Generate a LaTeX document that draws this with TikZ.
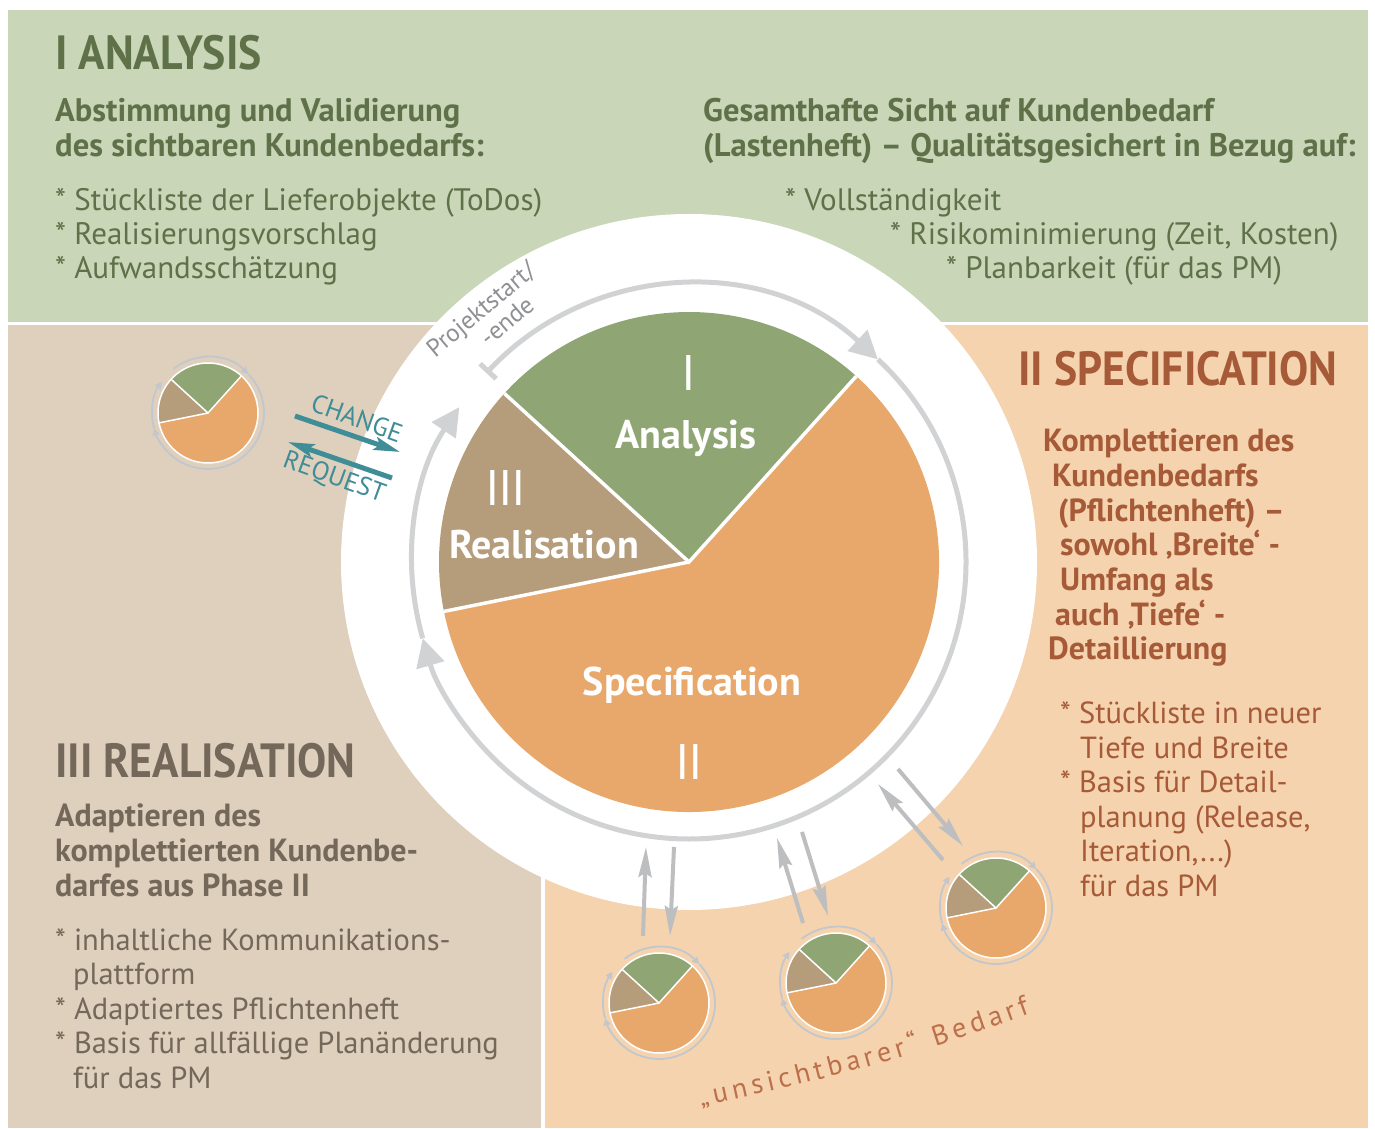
\documentclass[tikz,border=0pt]{standalone}
\usepackage{fontspec}
\setmainfont{PT Sans}
\newfontfamily\headfont[FakeStretch=0.91]{PT Sans}
\usetikzlibrary{arrows.meta,decorations.text}

\definecolor{greenbg}{HTML}{C9D6B8}
\definecolor{brownbg}{HTML}{DFCFBD}
\definecolor{peachbg}{HTML}{F4D3AE}
\definecolor{piegreen}{HTML}{8FA674}
\definecolor{piebrown}{HTML}{B59C7A}
\definecolor{pieorange}{HTML}{E8A76B}
\definecolor{ringgray}{HTML}{D1D2D4}
\definecolor{arrowgray}{HTML}{BCBEC0}
\definecolor{minigray}{HTML}{C2C7CE}
\definecolor{changeteal}{HTML}{3E8D97}
\definecolor{greentxt}{HTML}{5E7149}
\definecolor{browntxt}{HTML}{736859}
\definecolor{rusttxt}{HTML}{A65A37}
\definecolor{startgray}{HTML}{8E9093}
\definecolor{hiddentxt}{HTML}{BC6F4A}

\tikzset{
  headtxt/.style={anchor=base west, inner sep=0pt, font=\headfont\bfseries\fontsize{48}{48}\selectfont},
  subtxt/.style={anchor=base west, inner sep=0pt, align=left, font=\bfseries\fontsize{32}{34.7}\selectfont},
  itemtxt/.style={anchor=base west, inner sep=0pt, align=left, font=\fontsize{30.5}{34.5}\selectfont},
  topsub/.style={subtxt, font=\bfseries\fontsize{32.6}{35}\selectfont},
  topitem/.style={itemtxt, font=\fontsize{31}{34}\selectfont},
  pielbl/.style={anchor=base, inner sep=0pt, text=white, font=\bfseries\fontsize{40}{40}\selectfont},
  pienum/.style={anchor=base, inner sep=0pt, text=white, font=\fontsize{50}{50}\selectfont},
  ring/.style={draw=ringgray, line width=5pt},
  miniring/.style={draw=minigray, line width=1.8pt},
  grayarrow/.style={draw=arrowgray, line width=4pt, -{Stealth[length=30pt,width=13pt,inset=4pt]}},
  tealarrow/.style={draw=changeteal, line width=5pt, -{Stealth[length=26pt,width=13pt,inset=5pt]}},
  minipie/.pic={
    \fill[piegreen] (0,0) -- (48:50) arc[start angle=48,end angle=137.6,radius=50] -- cycle;
    \fill[piebrown] (0,0) -- (137.6:50) arc[start angle=137.6,end angle=191.4,radius=50] -- cycle;
    \fill[pieorange] (0,0) -- (191.4:50) arc[start angle=191.4,end angle=408,radius=50] -- cycle;
    \draw[white, line width=1.5pt] (48:50) -- (0,0) -- (137.6:50) (0,0) -- (191.4:50);
    \draw[white, line width=1.5pt] (0,0) circle[radius=50];
    \draw[miniring, -{Triangle[length=7pt,width=7pt]}] (128:56) arc[start angle=128,end angle=44,radius=56];
    \draw[miniring, -{Triangle[length=7pt,width=7pt]}] (44:56) arc[start angle=44,end angle=-164,radius=56];
    \draw[miniring, -{Triangle[length=7pt,width=7pt]}] (196:56) arc[start angle=196,end angle=146,radius=56];
    \coordinate (-c) at (0,0);
  }
}

\begin{document}
\begin{tikzpicture}[x=1pt,y=1pt]
  \useasboundingbox (0,0) rectangle (1375,1128);
  \fill[white] (0,0) rectangle (1375,1128);

  % Background panels
  \fill[greenbg] (8,806) rectangle (1368,1118);
  \fill[brownbg] (8,0) rectangle (541,803);
  \fill[peachbg] (545,0) rectangle (1368,803);

  % Central cycle
  \coordinate (C) at (689,566);
  \fill[white] (C) circle[radius=348];
  \draw[ring, {Bar[width=22pt]}-{Triangle[length=28pt,width=28pt]}] ([shift={(137:277)}]C) arc[start angle=137,end angle=47,radius=277];
  \draw[ring, -{Triangle[length=28pt,width=28pt]}] ([shift={(47:277)}]C) arc[start angle=47,end angle=-164,radius=277];
  \draw[ring, -{Triangle[length=28pt,width=28pt]}] ([shift={(196:277)}]C) arc[start angle=196,end angle=146,radius=277];

  \fill[piegreen] (C) -- ([shift={(48:250)}]C) arc[start angle=48,end angle=137.6,radius=250] -- cycle;
  \fill[piebrown] (C) -- ([shift={(137.6:250)}]C) arc[start angle=137.6,end angle=191.4,radius=250] -- cycle;
  \fill[pieorange] (C) -- ([shift={(191.4:250)}]C) arc[start angle=191.4,end angle=408,radius=250] -- cycle;
  \draw[white, line width=3.5pt] ([shift={(48:250)}]C) -- (C) -- ([shift={(137.6:250)}]C) (C) -- ([shift={(191.4:250)}]C);

  \node[pienum] (numI) at (689,737) {I};
  \node[pielbl] (analysis) at (686,679) {Analysis};
  \node[pienum] (numIII) at (506,622) {I\kern-1.5pt I\kern-1.5pt I};
  \node[pielbl] (realisation) at (544,569) {Realisation};
  \node[pielbl] (specification) at (692,432) {Specification};
  \node[pienum] (numII) at (689,349) {I\kern-1.5pt I};

  \node[align=center, inner sep=0pt, rotate=40, text=startgray, font=\fontsize{25}{26}\selectfont] (start) at (489,809) {Projektstart/\\\hspace*{24pt}-ende};

  % I Analysis
  \node[headtxt, text=greentxt] (anahead) at (55,1058) {I ANALYSIS};
  \node[topsub, text=greentxt] (anasub) at (55,971) {Abstimmung und Validierung\\des sichtbaren Kundenbedarfs:};
  \node[topitem, text=greentxt] (anaitems) at (55,849) {* Stückliste der Lieferobjekte (ToDos)\\* Realisierungsvorschlag\\* Aufwandsschätzung};
  \node[topsub, text=greentxt] (anasub2) at (703,971) {Gesamthafte Sicht auf Kundenbedarf\\(Lastenheft) – Qualitätsgesichert in Bezug auf:};
  \node[topitem, text=greentxt] (anaitems2) at (785,849) {* Vollständigkeit\\\hspace*{105pt}* Risikominimierung (Zeit, Kosten)\\\hspace*{161pt}* Planbarkeit (für das PM)};

  % II Specification
  \node[headtxt, text=rusttxt] (spechead) at (1018,742) {II SPECIFICATION};
  \node[subtxt, text=rusttxt] (specsub) at (1043,468) {Komplettieren des\\\hspace*{9pt}Kundenbedarfs\\\hspace*{15pt}(Pflichtenheft) –\\\hspace*{17pt}sowohl ‚Breite‘ -\\\hspace*{17pt}Umfang als\\\hspace*{12pt}auch ‚Tiefe‘ -\\\hspace*{5pt}Detaillierung};
  \node[itemtxt, text=rusttxt] (specitems) at (1060,232) {* Stückliste in neuer\\\hspace*{20pt}Tiefe und Breite\\* Basis für Detail-\\\hspace*{20pt}planung (Release,\\\hspace*{20pt}Iteration,...)\\\hspace*{20pt}für das PM};

  % III Realisation
  \node[headtxt, text=browntxt] (realhead) at (55,351) {III REALISATION};
  \node[subtxt, text=browntxt] (realsub) at (55,232) {Adaptieren des\\komplettierten Kundenbe-\\darfes aus Phase II};
  \node[itemtxt, text=browntxt] (realitems) at (55,40) {* inhaltliche Kommunikations-\\\hspace*{18pt}plattform\\* Adaptiertes Pflichtenheft\\* Basis für allfällige Planänderung\\\hspace*{18pt}für das PM};

  % Change request
  \pic (p1) at (208,715) {minipie};
  \coordinate (ch1) at (295,712); \coordinate (ch2) at (400,676);
  \coordinate (rq1) at (392,650); \coordinate (rq2) at (288,686);
  \draw[tealarrow] (ch1) -- (ch2);
  \draw[tealarrow] (rq1) -- (rq2);
  \node[rotate=-20, inner sep=0pt, text=changeteal, font=\fontsize{26}{26}\selectfont] (change) at (357,710) {CHANGE};
  \node[rotate=-20, inner sep=0pt, text=changeteal, font=\fontsize{26}{26}\selectfont] (request) at (334,650) {REQUEST};

  % Invisible demand
  \pic (p2) at (659,125) {minipie};
  \pic (p3) at (836,145) {minipie};
  \pic (p4) at (996,220) {minipie};
  \coordinate (a1) at (643,192); \coordinate (b1) at (646,281);
  \coordinate (c1) at (674,281); \coordinate (d1) at (670,192);
  \coordinate (a2) at (803,205); \coordinate (b2) at (777,290);
  \coordinate (c2) at (802,296); \coordinate (d2) at (828,212);
  \coordinate (a3) at (943,268); \coordinate (b3) at (878,344);
  \coordinate (c3) at (898,359); \coordinate (d3) at (963,282);
  \foreach \i in {1,2,3} {
    \draw[grayarrow] (a\i) -- (b\i);
    \draw[grayarrow] (c\i) -- (d\i);
  }
  \coordinate (u1) at (701,22); \coordinate (u2) at (1030,114);
  \path[decorate, decoration={text along path, text align={fit to path},
    text={|\fontsize{28}{28}\selectfont\color{hiddentxt}|„unsichtbarer“ Bedarf}}] (u1) to[bend right=4] (u2);
\end{tikzpicture}
\end{document}
